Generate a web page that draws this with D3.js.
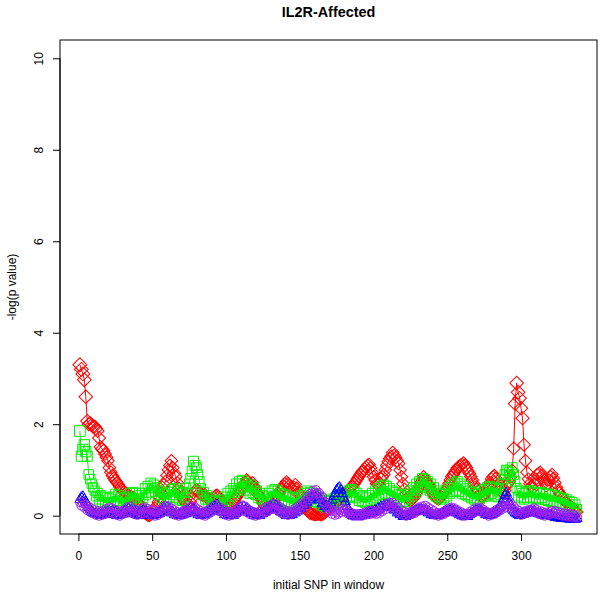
<!DOCTYPE html>
<html><head><meta charset="utf-8">
<script src="https://cdn.jsdelivr.net/npm/d3@7"></script>
<style>
body{margin:0;background:#fff}
svg{display:block}
text{font-family:"Liberation Sans",Arial,Helvetica,sans-serif;fill:#000}
</style>
</head><body>
<svg id="chart" width="604" height="596"></svg>
<script>
const chartTitle = "IL2R-Affected";
const xLabel = "initial SNP in window";
const yLabel = "-log(p value)";
const xTicks = [0, 50, 100, 150, 200, 250, 300];
const yTicks = [0, 2, 4, 6, 8, 10];

const redVals = [
3.3,3.2,3.1,2.97,2.6,2.07,2.0,2.02,1.98,1.95,
1.95,1.9,1.85,1.7,1.5,1.46,1.42,1.35,1.28,1.2,1.05,
.95,.88,.82,.77,.73,.68,.63,.58,.55,.52,
.5,.48,.45,.43,.41,.4,.38,.34,.3,.25,.2,
.15,.1,.06,.03,.01,0,.02,.05,.1,.16,
.22,.3,.4,.5,.62,.68,.75,.88,1.0,1.1,1.2,
1.05,.93,.85,.72,.6,.5,.42,.36,.3,.26,
.24,.25,.3,.38,.5,.54,.57,.55,.5,.46,.45,
.48,.45,.4,.36,.33,.34,.35,.4,.44,.45,.42,
.38,.32,.27,.22,.2,.19,.2,.22,.26,.3,.35,
.4,.45,.5,.55,.6,.66,.72,.78,.75,.7,
.68,.72,.65,.58,.5,.46,.42,.35,.28,.22,.18,
.15,.14,.16,.2,.25,.3,.36,.42,.48,.55,
.6,.65,.7,.74,.7,.66,.62,.58,.62,.68,.6,
.52,.45,.38,.32,.25,.18,.12,.08,.05,.04,
.03,.02,.02,.03,.03,.02,.02,.04,.06,.1,.14,
.18,.2,.22,.25,.28,.3,.33,.36,.38,.4,
.42,.45,.5,.55,.6,.62,.65,.7,.75,.8,.85,
.9,.95,.98,1.02,1.06,1.1,1.12,1.05,.95,.85,
.78,.7,.68,.72,.8,.85,.9,1.0,1.1,1.18,1.25,
1.3,1.38,1.32,1.27,1.2,1.14,1.0,.85,.7,.58,
.48,.4,.35,.32,.35,.38,.42,.5,.58,.65,.72,
.78,.85,.8,.75,.7,.65,.58,.5,.44,.4,
.38,.36,.38,.42,.48,.52,.55,.62,.7,.78,.85,
.9,.95,1.0,1.05,1.08,1.1,1.12,1.15,1.1,1.05,.98,
.92,.85,.78,.7,.62,.58,.55,.48,.42,.4,.45,
.5,.58,.65,.72,.8,.85,.88,.82,.75,.68,
.6,.52,.48,.55,.65,.7,.75,.85,.99,1.47,2.45,
2.9,2.7,2.57,2.35,2.13,1.55,1.2,.95,.8,.7,
.65,.6,.7,.8,.9,.92,.95,.88,.8,.72,.65,
.7,.78,.85,.9,.82,.72,.62,.55,.5,.45,
.4,.35,.3,.28,.25,.22,.2,.15,.12,.1,.08];

const greenVals = [
1.85,1.3,1.45,1.55,1.4,1.3,.9,.8,.7,.62,
.55,.42,.5,.35,.45,.3,.42,.28,.4,.3,.38,
.28,.42,.3,.48,.32,.45,.25,.4,.22,.38,
.25,.42,.3,.5,.35,.52,.38,.5,.32,.45,.3,
.5,.38,.6,.45,.65,.5,.72,.6,.68,.52,
.62,.45,.55,.38,.5,.32,.48,.35,.52,.4,.58,
.45,.6,.38,.55,.35,.5,.32,.52,.4,.6,
.5,.7,.82,.97,1.19,1.1,1.05,.9,.75,.6,.45,
.52,.35,.45,.28,.4,.22,.35,.2,.32,.18,.3,
.2,.35,.25,.42,.3,.5,.35,.55,.42,.6,.5,
.7,.55,.75,.6,.78,.62,.72,.55,.65,.48,
.68,.5,.62,.45,.55,.38,.5,.35,.45,.3,.42,
.32,.5,.38,.55,.42,.58,.4,.55,.35,.5,
.32,.48,.3,.45,.28,.42,.25,.4,.22,.38,.25,
.4,.28,.45,.32,.5,.35,.55,.4,.52,.35,
.48,.3,.45,.28,.4,.22,.38,.2,.35,.18,.32,
.2,.35,.22,.38,.25,.42,.28,.45,.3,.48,
.35,.52,.38,.55,.4,.58,.42,.55,.38,.5,.32,
.45,.3,.42,.28,.4,.3,.45,.32,.5,.35,
.55,.38,.6,.42,.65,.45,.68,.48,.65,.45,.6,
.42,.55,.38,.52,.35,.48,.3,.45,.28,.42,
.3,.48,.35,.55,.42,.62,.48,.7,.55,.75,.62,
.82,.65,.8,.6,.75,.55,.7,.48,.62,.42,
.55,.38,.5,.35,.48,.38,.55,.42,.62,.48,.68,
.52,.72,.55,.75,.52,.7,.48,.65,.45,.6,.42,
.55,.38,.52,.35,.48,.32,.5,.35,.55,.4,.58,
.42,.62,.45,.65,.48,.62,.42,.6,.4,.58,
.45,.7,.8,.9,1.0,.98,.95,.85,1.05,.9,.75,
.6,.42,.55,.38,.5,.35,.52,.38,.55,.4,
.55,.38,.52,.36,.5,.35,.52,.38,.5,.34,.48,
.32,.48,.3,.46,.3,.45,.28,.42,.26,.4,
.25,.38,.22,.36,.2,.32,.18,.3,.16,.25,.15];

const blueVals = [
.35,.4,.42,.36,.3,.24,.18,.14,.1,.06,
.04,.06,.02,.05,0,.04,.02,.08,.05,.1,.06,
.04,.1,.02,.08,0,.06,.02,.08,.04,.1,
.12,.08,.15,.06,.12,.04,.1,.02,.08,0,.06,
.08,.12,.05,.1,.02,.06,0,.04,0,.03,
.02,.06,.04,.1,.08,.16,.12,.18,.1,.14,.06,
.08,.02,.06,0,.04,0,.05,.02,.08,.04,
.12,.08,.16,.1,.14,.06,.1,.02,.06,0,.04,
.02,.06,.04,.1,.08,.16,.12,.2,.16,.24,.18,
.14,.08,.1,.02,.06,0,.04,0,.03,0,.05,
.06,.12,.1,.18,.14,.2,.12,.16,.08,.1,
.04,.06,0,.04,0,.02,0,.05,.04,.1,.08,
.14,.12,.2,.16,.24,.18,.22,.14,.16,.08,
.1,.04,.06,0,.04,0,.05,.02,.08,.06,.12,
.1,.18,.16,.24,.22,.3,.28,.36,.34,.4,
.42,.44,.4,.42,.34,.36,.26,.28,.2,.22,.16,
.2,.28,.34,.42,.48,.56,.6,.62,.56,.48,
.38,.3,.2,.14,.08,.04,0,.02,-.02,0,-.02,
.02,0,.04,.02,.06,.04,.08,.06,.1,.08,
.12,.1,.16,.14,.2,.18,.22,.2,.24,.2,.22,
.18,.2,.12,.14,.06,.08,.02,.04,-.02,0,
-.02,0,.02,.04,.06,.08,.1,.12,.14,.12,.14,
.12,.14,.1,.12,.06,.08,.02,.04,0,.02,
0,.02,.02,.04,.06,.08,.1,.1,.12,.12,.14,
.1,.12,.06,.08,.02,.04,0,.02,-.02,0,-.02,
.02,.04,.06,.08,.1,.1,.12,.12,.1,.08,.06,
.02,.04,0,.02,.02,.04,.06,.1,.12,.16,
.2,.28,.36,.44,.5,.42,.3,.22,.14,.1,.06,
.04,.02,0,.02,.04,.04,.06,.08,.08,.1,
.1,.08,.1,.06,.06,.04,.04,.02,.02,0,0,
.02,0,.02,-.02,0,-.04,-.02,-.05,-.04,-.06,
-.05,-.06,-.05,-.07,-.06,-.08,-.06,-.08,-.07,-.08,-.06];

const purpleVals = [
.3,.22,.28,.18,.24,.12,.2,.08,.16,.05,
.12,.02,.1,0,.08,.02,.12,.04,.15,.06,.18,
.08,.16,.04,.12,.02,.1,0,.08,.04,.12,
.06,.18,.1,.2,.08,.16,.04,.12,.02,.1,.04,
.14,.06,.18,.08,.15,.04,.12,.02,.1,0,
.08,.02,.12,.06,.18,.1,.22,.14,.2,.1,.16,
.06,.12,.02,.08,0,.06,.02,.1,.04,.12,
.08,.18,.1,.2,.12,.18,.06,.14,.04,.1,.02,
.08,0,.1,.04,.14,.08,.2,.12,.24,.14,.2,
.1,.16,.06,.12,.02,.08,0,.06,.02,.1,.04,
.12,.06,.18,.1,.22,.12,.2,.08,.14,.04,
.1,.02,.08,0,.06,.02,.1,.04,.14,.08,.18,
.1,.2,.14,.24,.16,.26,.14,.22,.1,.18,
.06,.14,.04,.1,.02,.08,.04,.12,.08,.16,.1,
.2,.14,.26,.2,.32,.28,.4,.36,.48,.44,
.55,.5,.56,.48,.5,.4,.42,.3,.3,.2,.18,
.1,.14,.04,.1,.02,.08,.04,.12,.08,.16,
.1,.14,.06,.1,.02,.06,0,.04,0,.03,0,
.04,0,.05,.02,.08,.03,.1,.04,.1,.05,
.08,.04,.1,.06,.14,.1,.2,.14,.26,.2,.28,
.22,.28,.18,.24,.12,.18,.06,.12,.02,.08,
0,.06,.02,.08,.04,.1,.06,.14,.1,.18,.12,
.2,.14,.22,.12,.18,.08,.14,.04,.1,.02,
.06,0,.05,.02,.08,.04,.12,.08,.16,.1,.18,
.12,.16,.06,.12,.02,.08,0,.05,0,.04,.02,
.08,.04,.12,.08,.16,.1,.18,.12,.16,.08,.12,
.04,.08,0,.06,.02,.08,.04,.12,.08,.16,
.12,.2,.16,.26,.2,.3,.22,.26,.16,.2,.1,
.14,.06,.1,.02,.08,.04,.1,.06,.12,.08,
.14,.1,.16,.08,.12,.04,.1,.02,.08,0,.06,
.02,.08,.04,.1,.06,.1,.04,.08,.02,.06,
0,.05,0,.04,-.02,.03,-.02,.02,-.04,0,-.04];

const W = 604, H = 596;
const L = 60, R = 597, T = 40, B = 534;
const n = redVals.length;
[greenVals, blueVals, purpleVals].forEach(a => { if (a.length !== n) throw new Error("length mismatch " + a.length + " vs " + n); });
const snp = d3.range(1, n + 1);

const x = d3.scaleLinear()
  .domain([1 - 0.04 * (n - 1), n + 0.04 * (n - 1)])
  .range([L, R]);
const y = d3.scaleLinear().domain([-0.4, 10.4]).range([B, T]);

const svg = d3.select("#chart");
svg.append("rect").attr("width", W).attr("height", H).attr("fill", "#fff");

svg.append("clipPath").attr("id", "clipP")
  .append("rect").attr("x", L).attr("y", T).attr("width", R - L).attr("height", B - T);
const plot = svg.append("g").attr("clip-path", "url(#clipP)");

const series = [
  {vals: redVals, color: "#ff0000", shape: "diamond"},
  {vals: greenVals, color: "#00ee00", shape: "square"},
  {vals: blueVals, color: "#0000ff", shape: "triangle"},
  {vals: purpleVals, color: "#a020f0", shape: "circle"}
];

function symPath(shape, v) {
  if (shape === "diamond") { const h = 6 + 0.3 * v; return d3.symbol(d3.symbolSquare, 2 * h * h)(); }
  if (shape === "square") { const s = 8.5 + 1.2 * v; return d3.symbol(d3.symbolSquare, s * s)(); }
  if (shape === "triangle") { const a = 10; return d3.symbol(d3.symbolTriangle, Math.sqrt(3) / 4 * a * a)(); }
  return d3.symbol(d3.symbolCircle, Math.PI * 4.5 * 4.5)();
}

series.forEach(s => {
  const data = s.vals.map((v, i) => ({x: snp[i], v}));
  const line = d3.line().x(d => x(d.x)).y(d => y(d.v));
  const g = plot.append("g");
  g.append("path").datum(data).attr("d", line)
    .attr("fill", "none").attr("stroke", s.color).attr("stroke-width", 1);
  g.selectAll("path.pt").data(data).join("path").attr("class", "pt")
    .attr("d", d => symPath(s.shape, d.v))
    .attr("transform", d => `translate(${x(d.x)},${y(d.v)})` + (s.shape === "diamond" ? " rotate(45)" : ""))
    .attr("fill", "none").attr("stroke", s.color).attr("stroke-width", 1);
});

// box
svg.append("rect").attr("x", L).attr("y", T).attr("width", R - L).attr("height", B - T)
  .attr("fill", "none").attr("stroke", "#000").attr("stroke-width", 1);

// x axis
const xa = svg.append("g").attr("transform", `translate(0,${B})`)
  .call(d3.axisBottom(x).tickValues(xTicks).tickSize(7).tickPadding(10).tickFormat(d3.format("d")));
xa.select(".domain").remove();
xa.append("line").attr("x1", x(xTicks[0])).attr("x2", x(xTicks[xTicks.length - 1])).attr("stroke", "#000");
xa.selectAll("text").attr("font-size", 12).attr("fill", "#000").style("font-family", '"Liberation Sans",Arial,sans-serif');

// y axis
const ya = svg.append("g").attr("transform", `translate(${L},0)`)
  .call(d3.axisLeft(y).tickValues(yTicks).tickSize(7).tickFormat(d3.format("d")));
ya.select(".domain").remove();
ya.append("line").attr("y1", y(yTicks[0])).attr("y2", y(yTicks[yTicks.length - 1])).attr("stroke", "#000");
ya.selectAll("text")
  .attr("x", 0).attr("y", -21).attr("dy", "0.35em")
  .attr("text-anchor", "middle").attr("transform", "rotate(-90)")
  .attr("font-size", 12).attr("fill", "#000").style("font-family", '"Liberation Sans",Arial,sans-serif');

// labels
svg.append("text").attr("x", (L + R) / 2).attr("y", 17).attr("text-anchor", "middle")
  .attr("font-size", 14.4).attr("font-weight", "bold").text(chartTitle);
svg.append("text").attr("x", (L + R) / 2).attr("y", 589).attr("text-anchor", "middle")
  .attr("font-size", 12).text(xLabel);
svg.append("text").attr("transform", `translate(16,${(T + B) / 2}) rotate(-90)`)
  .attr("text-anchor", "middle").attr("font-size", 12).text(yLabel);
</script>
</body></html>
